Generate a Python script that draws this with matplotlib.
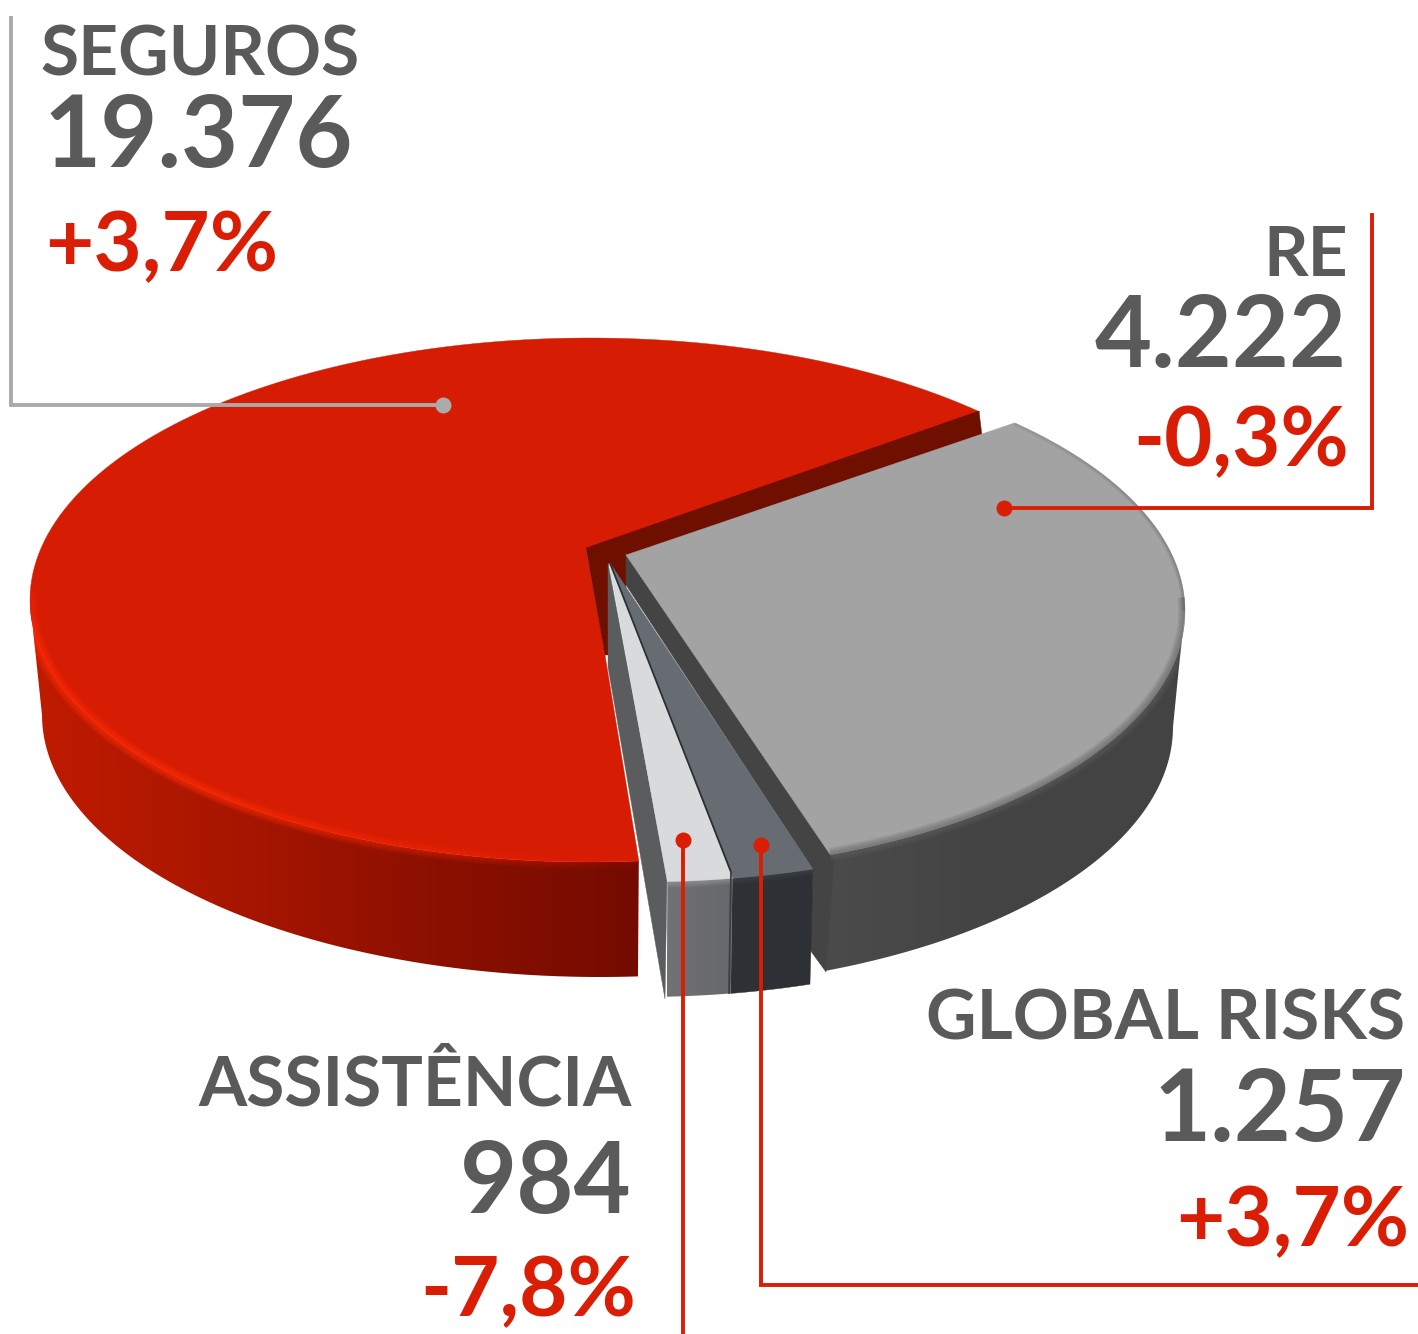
#!/usr/bin/env python3
"""3D-look exploded pie: premium by segment, with leader lines and labels."""
import matplotlib
matplotlib.use("Agg")
import matplotlib.pyplot as plt
import numpy as np
from matplotlib.collections import LineCollection
from matplotlib.colors import LinearSegmentedColormap, to_rgb
from matplotlib.patches import Polygon

W, H = 1418, 1334
GREY_TXT, RED_TXT = "#5a5a5a", "#d91e05"
FONT = "Lato"

# values printed on the chart
names = ["SEGUROS", "RE", "GLOBAL RISKS", "ASSISTÊNCIA"]
premium = [19376, 4222, 1257, 984]
change = [3.7, -0.3, 3.7, -7.8]
# slice angles as seen on the tilted disc (degrees, start/end)
seguros_angles = [45.9, 275.0]
re_angles = [-68.5, 45.9]
global_angles = [-80.5, -72.0]
assist_angles = [-87.2, -80.5]

fig = plt.figure(figsize=(W/100, H/100), dpi=100)
ax = fig.add_axes([0, 0, 1, 1])
ax.set_xlim(0, W); ax.set_ylim(H, 0); ax.axis("off")


def arc(cx, cy, rx, ry, a0, a1, n=160):
    t = np.radians(np.linspace(a0, a1, n))
    return np.column_stack([cx + rx*np.cos(t), cy - ry*np.sin(t)])


def gradient_fill(pts, stops, z):
    # horizontal gradient clipped to a polygon
    cm = LinearSegmentedColormap.from_list("g", stops)
    x0, x1 = pts[:, 0].min(), pts[:, 0].max()
    im = ax.imshow(np.linspace(0, 1, 256)[None, :], cmap=cm, aspect="auto", zorder=z,
                   extent=[x0, x1, pts[:, 1].max(), pts[:, 1].min()])
    im.set_clip_path(Polygon(pts, closed=True, transform=ax.transData))
    ax.set_xlim(0, W); ax.set_ylim(H, 0)


def poly(pts, col, z):
    ax.add_patch(Polygon(pts, closed=True, fc=col, ec=col, lw=0.3, zorder=z))


def rim(pts, col, z, clip, widths=(10, 8, 6, 4, 2), alpha=0.2, fade=None):
    # soft bevel along a disc edge, optional alpha ramp along its length
    n = len(pts) - 1
    ramp = np.ones(n) if fade is None else np.interp(np.linspace(0, 1, n), fade[0], fade[1])
    segs = np.stack([pts[:-1], pts[1:]], axis=1)
    rgba = np.column_stack([np.tile(to_rgb(col), (n, 1)), ramp*alpha])
    clip_patch = Polygon(clip, closed=True, transform=ax.transData)
    for w in widths:
        lc = LineCollection(segs, colors=rgba, linewidths=w, zorder=z, capstyle="butt")
        ax.add_collection(lc)
        lc.set_clip_path(clip_patch)


# --- Seguros ---
a0, a1 = seguros_angles
top = arc(590, 600, 560, 262, a0, a1)
wall = np.vstack([arc(590, 600, 560, 262, 180, a1, 80), arc(600, 715, 558, 262, 273.9, 180, 80)])
gradient_fill(wall, ["#c01b00", "#a81600", "#8c1000", "#740b00"], 1)
poly(np.vstack([top, [[605, 655], [586, 549]]]), "#d61c03", 2)
clip = np.vstack([arc(590, 600, 560, 262, a0, 180), arc(600, 715, 558, 262, 180, 273.9), [[638, 862], [605, 655]]])
rim(arc(590, 600, 560, 262, 178, 275), "#ff2c08", 3, clip,
    fade=([0, 0.1, 0.5, 0.8, 1], [0.5, 1, 1, 0.45, 0.1]))
poly([[586, 548], [979, 411], [982, 436], [626, 560], [626, 590], [608, 563], [608, 655], [605, 655]], "#6e0f00", 3)

# --- RE ---
a0, a1 = re_angles
top = arc(625, 611, 560, 262, a0, a1)
wall = np.vstack([arc(625, 611, 560, 262, a0, 1, 80), arc(625, 727, 548, 262, 0, a0, 80)])
gradient_fill(wall, ["#4b4b4b", "#434343", "#444444"], 4)
poly([[626, 553], [626, 585], [813, 870], [810, 950], [826, 972], [834, 858]], "#444444", 5)
poly(np.vstack([top, [[626, 555]]]), "#a3a3a3", 6)
clip = np.vstack([arc(625, 611, 560, 262, a1, 0), arc(625, 727, 548, 262, 0, a0), [[626, 555]]])
rim(arc(625, 611, 560, 262, a0, 3), "#626262", 7, clip, alpha=0.16)
rim(arc(625, 611, 560, 262, 0, a1), "#626262", 7, clip, widths=(5, 3, 1.5), alpha=0.2,
    fade=([0, 0.5, 1], [1, 0.8, 0.4]))

# --- Global Risks ---
a0, a1 = global_angles
top = arc(640, 620, 560, 262, a0, a1, 30)
wall = np.vstack([top, arc(640, 735, 550, 262, a1, a0, 30)])
poly(wall, "#2d3034", 8)
poly(np.vstack([top, [[610, 563]]]), "#666c72", 9)
rim(top, "#41454a", 10, wall, widths=(8, 5, 3), alpha=0.25)

# --- Assistencia ---
a0, a1 = assist_angles
top = arc(640, 620, 560, 262, a0, a1, 30)
wall = np.vstack([top, arc(640, 735, 550, 262, a1, a0, 30)])
poly([[608, 563], [608, 667], [665, 999], [667, 878]], "#5b5c5d", 8)
gradient_fill(wall, ["#717274", "#66676a"], 8)
poly(np.vstack([top, [[609, 563]]]), "#d9dadc", 9)
rim(top, "#9a9b9d", 10, wall, widths=(8, 5, 3), alpha=0.25)
ax.plot([610, 731], [563, 872], color="#2d3034", lw=1.3, zorder=11)
ax.plot([731, 729], [872, 993], color="#3c3f42", lw=1.3, zorder=11)

# --- leader lines ---
LW = 2.8
ax.plot([11, 11, 443], [18, 405, 405], color="#aaaaaa", lw=LW, zorder=20, solid_joinstyle="miter")
ax.plot([443], [405], "o", color="#aaaaaa", ms=11.5, mew=0, zorder=20)
for xs, ys in [([1004, 1372, 1372], [508, 508, 215]),
               ([761, 761, W], [845, 1285, 1285]),
               ([683, 683], [840, H])]:
    ax.plot(xs, ys, color=RED_TXT, lw=LW, zorder=20, solid_joinstyle="miter")
    ax.plot(xs[0], ys[0], "o", color=RED_TXT, ms=11.5, mew=0, zorder=20)


# --- labels ---
def label(i, x, ys, ha):
    val = f"{premium[i]:,}".replace(",", ".")
    chg = f"{change[i]:+.1f}%".replace(".", ",")
    ax.text(x[0], ys[0], names[i], fontsize=50, color=GREY_TXT, ha=ha, va="baseline", family=FONT, weight="bold", zorder=30)
    ax.text(x[1], ys[1], val, fontsize=71, color=GREY_TXT, ha=ha, va="baseline", family=FONT, weight="bold", zorder=30)
    ax.text(x[2], ys[2], chg, fontsize=60, color=RED_TXT, ha=ha, va="baseline", family=FONT, weight="bold", zorder=30)


label(0, (40, 44, 45), (75, 167, 271), "left")
label(1, (1348, 1347, 1349), (276, 367, 466), "right")
label(2, (1405, 1406, 1409), (1040, 1141, 1246), "right")
label(3, (632, 632, 636), (1106, 1213, 1316), "right")

fig.savefig("out.png", dpi=100)
